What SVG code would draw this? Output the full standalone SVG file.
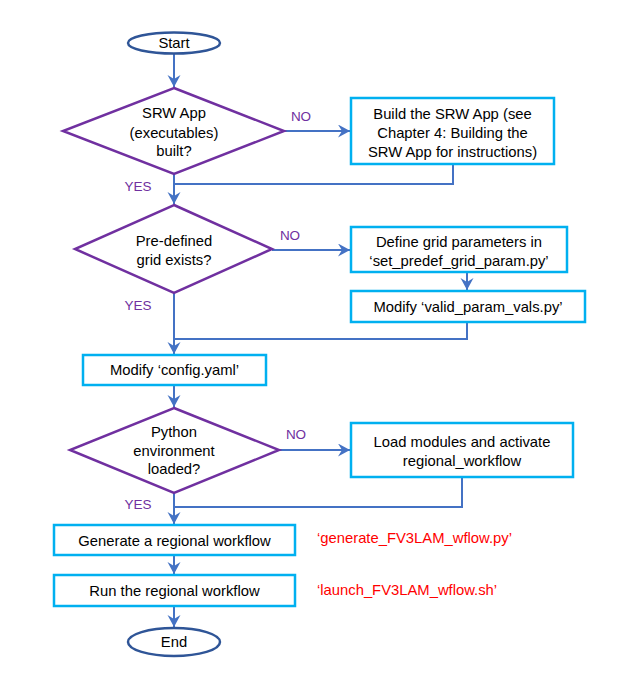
<svg xmlns="http://www.w3.org/2000/svg" width="632" height="683" viewBox="0 0 632 683">
<defs>
<marker id="ah" markerUnits="userSpaceOnUse" markerWidth="14" markerHeight="14" refX="12" refY="6.5" orient="auto">
<path d="M0,0 L12,6.5 L0,13 L4,6.5 z" fill="#4472C4"/>
</marker>
</defs>
<style>
.t{font-family:"Liberation Sans",Arial,sans-serif;font-size:14.8px;fill:#000;text-anchor:middle}
.lbl{font-family:"Liberation Sans",Arial,sans-serif;font-size:13.5px;fill:#7030A0;text-anchor:middle}
.red{font-family:"Liberation Sans",Arial,sans-serif;font-size:14.8px;fill:#FF0000}
.box{fill:#fff;stroke:#00B0F0;stroke-width:2.5}
.dia{fill:#fff;stroke:#7030A0;stroke-width:2.5}
.term{fill:#fff;stroke:#2F5597;stroke-width:2.5}
.c{fill:none;stroke:#4472C4;stroke-width:2}
.a{marker-end:url(#ah)}
</style>
<rect width="632" height="683" fill="#fff"/>
<g id="connectors">
<path class="c a" d="M174,53.5 L174,87"/>
<path class="c a" d="M284,131 L350,131"/>
<path class="c" d="M453,164 L453,184 L174,184"/>
<path class="c a" d="M174,174 L174,204"/>
<path class="c a" d="M272,250 L350,250"/>
<path class="c a" d="M467,272 L467,290"/>
<path class="c" d="M467,322 L467,339 L174,339"/>
<path class="c a" d="M174,293 L174,354"/>
<path class="c a" d="M174,385 L174,407"/>
<path class="c a" d="M279,450 L350,450"/>
<path class="c" d="M462,477 L462,507 L174,507"/>
<path class="c a" d="M174,493 L174,524"/>
<path class="c a" d="M174,555 L174,574"/>
<path class="c a" d="M174,606 L174,627"/>
</g>
<g id="labels">
<text class="lbl" x="301" y="121">NO</text>
<text class="lbl" x="138" y="191">YES</text>
<text class="lbl" x="290" y="240">NO</text>
<text class="lbl" x="138" y="310">YES</text>
<text class="lbl" x="296" y="439">NO</text>
<text class="lbl" x="138" y="509">YES</text>
</g>
<g id="start">
<ellipse class="term" cx="174" cy="43" rx="46" ry="10.5"/>
<text class="t" x="174" y="48">Start</text>
</g>
<g id="dec-app">
<polygon class="dia" points="174,88 284,131 174,174 63,131"/>
<text class="t" x="174" y="118">SRW App</text>
<text class="t" x="174" y="137.5">(executables)</text>
<text class="t" x="174" y="156">built?</text>
</g>
<g id="build-app">
<rect class="box" x="351" y="98" width="203" height="66"/>
<text class="t" x="452.5" y="119">Build the SRW App (see</text>
<text class="t" x="452.5" y="138">Chapter 4: Building the</text>
<text class="t" x="452.5" y="157">SRW App for instructions)</text>
</g>
<g id="dec-grid">
<polygon class="dia" points="174,205 272,249 174,293 75,249"/>
<text class="t" x="174" y="246">Pre-defined</text>
<text class="t" x="174" y="265">grid exists?</text>
</g>
<g id="define-grid">
<rect class="box" x="351" y="227" width="216" height="45"/>
<text class="t" x="459" y="247">Define grid parameters in</text>
<text class="t" x="459" y="266">‘set_predef_grid_param.py’</text>
</g>
<g id="modify-valid">
<rect class="box" x="351" y="291" width="234" height="31"/>
<text class="t" x="468" y="312">Modify ‘valid_param_vals.py’</text>
</g>
<g id="modify-config">
<rect class="box" x="83" y="355" width="183" height="30"/>
<text class="t" x="174.5" y="375">Modify ‘config.yaml’</text>
</g>
<g id="dec-python">
<polygon class="dia" points="174,408 279,450 174,493 70,450"/>
<text class="t" x="174" y="437">Python</text>
<text class="t" x="174" y="456">environment</text>
<text class="t" x="174" y="474">loaded?</text>
</g>
<g id="load-modules">
<rect class="box" x="351" y="423" width="222" height="54"/>
<text class="t" x="462" y="447">Load modules and activate</text>
<text class="t" x="462" y="466">regional_workflow</text>
</g>
<g id="generate">
<rect class="box" x="54" y="525" width="241" height="30"/>
<text class="t" x="174.5" y="546">Generate a regional workflow</text>
<text class="red" x="317" y="543">‘generate_FV3LAM_wflow.py’</text>
</g>
<g id="run">
<rect class="box" x="54" y="575" width="241" height="31"/>
<text class="t" x="174.5" y="596">Run the regional workflow</text>
<text class="red" x="317" y="595">‘launch_FV3LAM_wflow.sh’</text>
</g>
<g id="end">
<ellipse class="term" cx="174" cy="642" rx="46" ry="14"/>
<text class="t" x="174" y="647">End</text>
</g>
</svg>
